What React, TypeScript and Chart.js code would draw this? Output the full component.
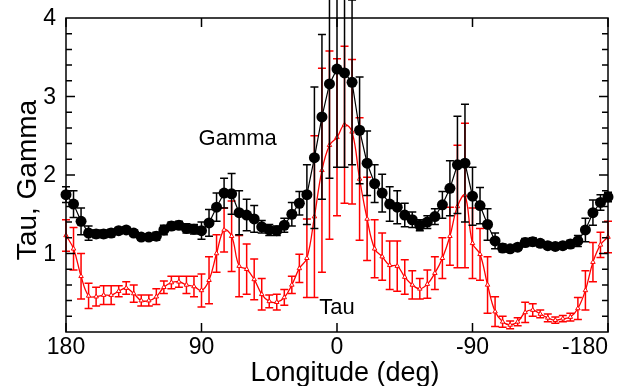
import { useEffect, useRef } from "react";
import { Chart, registerables } from "chart.js";

Chart.register(...registerables);

// Longitude bins (deg), plotted from +180 on the left to -180 on the right
const longitudes = [
  180, 175, 170, 165, 160, 155, 150, 145, 140, 135, 130, 125, 120, 115, 110, 105, 100, 95, 90,
  85, 80, 75, 70, 65, 60, 55, 50, 45, 40, 35, 30, 25, 20, 15, 10, 5, 0,
  -5, -10, -15, -20, -25, -30, -35, -40, -45, -50, -55, -60, -65, -70, -75, -80, -85, -90,
  -95, -100, -105, -110, -115, -120, -125, -130, -135, -140, -145, -150, -155, -160, -165, -170, -175, -180,
];

const gamma = [
  1.75, 1.63, 1.41, 1.26, 1.25, 1.25, 1.26, 1.29, 1.30, 1.26, 1.21, 1.21, 1.22, 1.30, 1.35, 1.36, 1.32, 1.31, 1.29,
  1.39, 1.59, 1.77, 1.76, 1.52, 1.49, 1.44, 1.34, 1.30, 1.29, 1.36, 1.50, 1.64, 1.75, 2.22, 2.74, 3.16, 3.35,
  3.30, 3.18, 2.57, 2.15, 1.89, 1.77, 1.63, 1.59, 1.49, 1.43, 1.36, 1.40, 1.47, 1.62, 1.83, 2.13, 2.15, 1.73,
  1.61, 1.37, 1.16, 1.07, 1.06, 1.08, 1.14, 1.15, 1.13, 1.10, 1.09, 1.10, 1.12, 1.16, 1.30, 1.52, 1.65, 1.72,
];

const gammaErr = [
  0.10, 0.17, 0.17, 0.09, 0.05, 0.05, 0.05, 0.04, 0.04, 0.04, 0.04, 0.04, 0.05, 0.06, 0.05, 0.05, 0.06, 0.06, 0.11,
  0.17, 0.18, 0.19, 0.26, 0.28, 0.20, 0.17, 0.08, 0.07, 0.06, 0.09, 0.15, 0.15, 0.38, 0.90, 1.05, 1.20, 1.25,
  1.20, 1.05, 0.68, 0.41, 0.24, 0.24, 0.22, 0.21, 0.15, 0.10, 0.07, 0.08, 0.10, 0.17, 0.35, 0.62, 0.75, 0.37,
  0.23, 0.20, 0.10, 0.05, 0.04, 0.04, 0.05, 0.05, 0.04, 0.04, 0.04, 0.04, 0.05, 0.07, 0.15, 0.16, 0.10, 0.06,
];

const tau = [
  1.23, 1.06, 0.71, 0.46, 0.45, 0.47, 0.47, 0.52, 0.56, 0.49, 0.40, 0.40, 0.45, 0.57, 0.63, 0.64, 0.60, 0.58, 0.53,
  0.66, 1.00, 1.30, 1.22, 0.84, 0.80, 0.67, 0.48, 0.39, 0.38, 0.44, 0.60, 0.81, 0.94, 1.47, 2.06, 2.38, 2.48,
  2.64, 2.55, 1.95, 1.44, 1.06, 0.96, 0.85, 0.84, 0.70, 0.60, 0.55, 0.61, 0.75, 0.94, 1.22, 1.60, 1.74, 1.13,
  0.99, 0.60, 0.26, 0.13, 0.09, 0.13, 0.25, 0.28, 0.23, 0.18, 0.15, 0.17, 0.19, 0.30, 0.53, 0.89, 1.11, 1.21,
];

const tauErr = [
  0.20, 0.27, 0.29, 0.16, 0.12, 0.12, 0.12, 0.07, 0.08, 0.11, 0.07, 0.07, 0.10, 0.08, 0.08, 0.07, 0.11, 0.13, 0.21,
  0.30, 0.24, 0.28, 0.45, 0.39, 0.32, 0.26, 0.20, 0.08, 0.10, 0.10, 0.11, 0.18, 0.50, 1.03, 1.30, 1.20, 1.00,
  1.00, 0.92, 0.78, 0.53, 0.37, 0.30, 0.31, 0.32, 0.22, 0.18, 0.13, 0.18, 0.21, 0.26, 0.37, 0.78, 0.92, 0.45,
  0.33, 0.36, 0.19, 0.07, 0.05, 0.05, 0.13, 0.08, 0.05, 0.05, 0.04, 0.04, 0.05, 0.14, 0.25, 0.25, 0.16, 0.20,
];

const xTicks = [180, 90, 0, -90, -180];
const yTicks = [1, 2, 3, 4];
const xTitle = "Longitude (deg)";
const yTitle = "Tau, Gamma";

// Series annotations placed in data coordinates
const seriesLabels = [
  { text: "Gamma", x: 66, y: 2.46 },
  { text: "Tau", x: 0, y: 0.31 },
];

const FONT = "'Liberation Sans', Arial, sans-serif";
const RED = "#ff0000";

const errorSets = [gammaErr, tauErr];
const errorColors = ["#000000", RED];

const errorBarPlugin = {
  id: "errorBars",
  beforeDatasetDraw(chart: any, args: any) {
    const i = args.index;
    const errs = errorSets[i];
    if (!errs) return;
    const { ctx, scales } = chart;
    const pts = chart.data.datasets[i].data;
    ctx.save();
    ctx.strokeStyle = errorColors[i];
    ctx.lineWidth = 1.5;
    ctx.beginPath();
    for (let k = 0; k < pts.length; k++) {
      const px = scales.x.getPixelForValue(pts[k].x);
      const top = scales.y.getPixelForValue(pts[k].y + errs[k]);
      const bot = scales.y.getPixelForValue(pts[k].y - errs[k]);
      ctx.moveTo(px, top);
      ctx.lineTo(px, bot);
      ctx.moveTo(px - 4, top);
      ctx.lineTo(px + 4, top);
      ctx.moveTo(px - 4, bot);
      ctx.lineTo(px + 4, bot);
    }
    ctx.stroke();
    ctx.restore();
  },
};

// Box frame with inward ticks, tick labels, axis titles and series annotations
const framePlugin = {
  id: "frame",
  afterDatasetsDraw(chart: any) {
    const { ctx, scales } = chart;
    ctx.save();
    ctx.fillStyle = "#000";
    ctx.font = `22px ${FONT}`;
    ctx.textAlign = "center";
    ctx.textBaseline = "middle";
    for (const l of seriesLabels) {
      ctx.fillText(l.text, scales.x.getPixelForValue(l.x), scales.y.getPixelForValue(l.y));
    }
    ctx.restore();
  },
  afterDraw(chart: any) {
    const { ctx, chartArea: a, scales } = chart;
    ctx.save();
    ctx.strokeStyle = "#000";
    ctx.lineWidth = 1.5;
    ctx.strokeRect(a.left, a.top, a.right - a.left, a.bottom - a.top);
    ctx.beginPath();
    for (const v of xTicks) {
      const px = scales.x.getPixelForValue(v);
      ctx.moveTo(px, a.bottom);
      ctx.lineTo(px, a.bottom - 9);
      ctx.moveTo(px, a.top);
      ctx.lineTo(px, a.top + 9);
    }
    for (let k = 1; k < 20; k++) {
      const py = scales.y.getPixelForValue(k * 0.2);
      const len = k % 5 === 0 ? 9 : 6;
      ctx.moveTo(a.left, py);
      ctx.lineTo(a.left + len, py);
      ctx.moveTo(a.right, py);
      ctx.lineTo(a.right - len, py);
    }
    ctx.stroke();

    ctx.fillStyle = "#000";
    ctx.font = `23px ${FONT}`;
    ctx.textBaseline = "top";
    xTicks.forEach((v, i) => {
      const px = scales.x.getPixelForValue(v);
      const last = i === xTicks.length - 1;
      ctx.textAlign = last ? "right" : "center";
      ctx.fillText(String(v), last ? px : px, a.bottom + 4);
    });
    ctx.textAlign = "right";
    ctx.textBaseline = "middle";
    for (const v of yTicks) {
      ctx.fillText(String(v), a.left - 10, scales.y.getPixelForValue(v) + 1);
    }

    ctx.font = `27px ${FONT}`;
    ctx.textAlign = "center";
    ctx.textBaseline = "alphabetic";
    ctx.fillText(xTitle, (a.left + a.right) / 2 + 8, 381);

    ctx.font = `28px ${FONT}`;
    ctx.translate(36, (a.top + a.bottom) / 2 + 5);
    ctx.rotate(-Math.PI / 2);
    ctx.fillText(yTitle, 0, 0);
    ctx.restore();
  },
};

export default function App() {
  const canvasRef = useRef<HTMLCanvasElement | null>(null);

  useEffect(() => {
    if (!canvasRef.current) return;
    const chart = new Chart(canvasRef.current, {
      type: "line",
      data: {
        datasets: [
          {
            label: "Gamma",
            data: longitudes.map((x, i) => ({ x, y: gamma[i] })),
            borderColor: "#000",
            borderWidth: 1.2,
            pointRadius: 5.5,
            pointBackgroundColor: "#000",
            pointBorderColor: "#000",
            pointBorderWidth: 0,
            tension: 0,
            clip: false,
          },
          {
            label: "Tau",
            data: longitudes.map((x, i) => ({ x, y: tau[i] })),
            borderColor: RED,
            borderWidth: 1.3,
            pointStyle: "triangle",
            pointRadius: 2.6,
            pointBackgroundColor: "#fff",
            pointBorderColor: RED,
            pointBorderWidth: 1,
            tension: 0.4,
            clip: false,
          },
        ],
      } as any,
      options: {
        responsive: false,
        animation: false,
        devicePixelRatio: 1,
        layout: { padding: { left: 0, right: 32, top: 18, bottom: 0 } },
        plugins: { legend: { display: false }, tooltip: { enabled: false } },
        scales: {
          x: {
            type: "linear",
            reverse: true,
            min: -180,
            max: 180,
            grid: { display: false, drawTicks: false },
            border: { display: false },
            ticks: { display: false, stepSize: 90 },
            afterFit: (s: any) => {
              s.height = 54;
            },
          },
          y: {
            min: 0,
            max: 4,
            grid: { display: false, drawTicks: false },
            border: { display: false },
            ticks: { display: false, stepSize: 1 },
            afterFit: (s: any) => {
              s.width = 66;
            },
          },
        },
      } as any,
      plugins: [errorBarPlugin, framePlugin],
    });
    return () => chart.destroy();
  }, []);

  return (
    <div style={{ position: "fixed", left: 0, top: 0, width: 640, height: 386, background: "#fff" }}>
      <canvas ref={canvasRef} width={640} height={386} />
    </div>
  );
}
